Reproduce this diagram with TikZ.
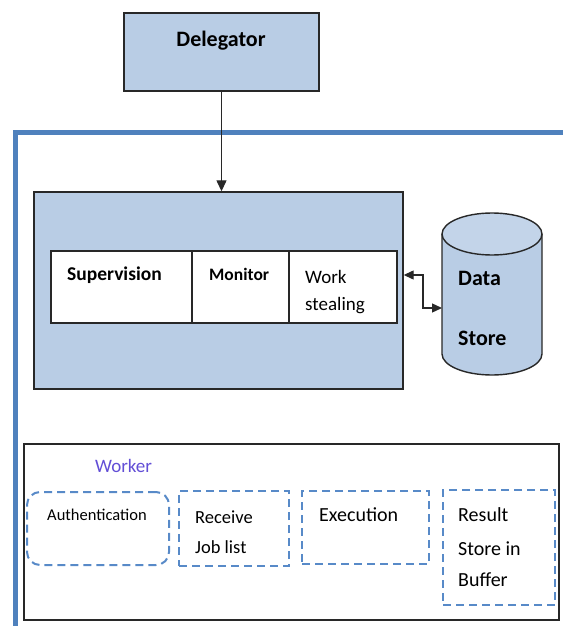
\documentclass[tikz,border=0pt]{standalone}
\usepackage{fontspec}
\setmainfont{Carlito}
\usetikzlibrary{arrows.meta}

\definecolor{boxfill}{RGB}{185,205,229}
\definecolor{framblue}{RGB}{79,129,189}
\definecolor{dashblue}{RGB}{88,138,200}
\definecolor{edge}{RGB}{40,40,40}
\definecolor{workerviolet}{RGB}{98,78,214}

\tikzset{
  bluebox/.style={draw=edge, line width=1.4pt, fill=boxfill, inner sep=0pt},
  cellbox/.style={draw=edge, line width=1.4pt, fill=white, inner sep=0pt},
  plainbox/.style={draw=edge, line width=1.4pt, inner sep=0pt},
  dashbox/.style={draw=dashblue, line width=2pt, dash pattern=on 8pt off 5pt, inner sep=0pt},
  txt/.style={anchor=west, inner sep=0pt, text=black},
  fs/.style={font=\fontsize{#1}{#1}\selectfont},
  tip/.style={-{Triangle[length=11pt,width=10pt]}, line width=1.3pt, draw=edge},
  dtip/.style={{Triangle[length=10pt,width=9pt]}-{Triangle[length=10pt,width=9pt]}, line width=1.3pt, draw=edge}
}

\begin{document}
\begin{tikzpicture}[x=1pt, y=-1pt]
\useasboundingbox (0,0) rectangle (563,626);

% outer frame (top and left sides only)
\draw[framblue, line width=5pt, line join=miter] (15,626) -- (15,132) -- (563,132);

% delegator
\node[bluebox, minimum width=195pt, minimum height=78pt] (dele) at (221.5,52) {};
\node[inner sep=0pt, font=\bfseries\fontsize{22}{22}\selectfont] (deletxt) at (221,41) {Delegator};

% supervisor block
\node[bluebox, minimum width=369pt, minimum height=197pt] (main) at (218.5,290.5) {};
\node[cellbox, minimum width=141pt, minimum height=72pt] (cell1) at (121.5,287) {};
\node[cellbox, minimum width=97pt, minimum height=72pt] (cell2) at (240.5,287) {};
\node[cellbox, minimum width=108pt, minimum height=72pt] (cell3) at (343,287) {};
\node[txt, font=\bfseries\fontsize{19.5}{19.5}\selectfont] (sup) at (67,275) {Supervision};
\node[txt, font=\bfseries\fontsize{17.5}{17.5}\selectfont] (mon) at (209,274) {Monitor};
\node[txt, fs=19] (work) at (305,277) {Work};
\node[txt, fs=19] (steal) at (305,306) {stealing};

% data store cylinder
\filldraw[fill=boxfill, draw=edge, line width=1.4pt]
  (442,234) -- (442,354) arc[start angle=180, end angle=360, x radius=50pt, y radius=21pt] -- (542,234);
\filldraw[fill=boxfill!85!white, draw=edge, line width=1.4pt]
  (492,234) ellipse[x radius=50pt, y radius=21pt];
\coordinate (store) at (442,308);
\node[txt, font=\bfseries\fontsize{22}{22}\selectfont] (data) at (458,278) {Data};
\node[txt, font=\bfseries\fontsize{22}{22}\selectfont] (storetxt) at (458,338) {Store};

% connectors
\draw[tip] (dele.south) -- (dele.south |- main.north);
\draw[dtip] (main.east |- 0,275) -| (423,308) -- (store);

% worker block
\node[plainbox, minimum width=535pt, minimum height=176pt] (worker) at (291.5,532) {};
\node[txt, fs=19, text=workerviolet] (workertxt) at (95,466) {Worker};

\node[dashbox, rounded corners=13pt, minimum width=142pt, minimum height=73pt] (auth) at (98,528.5) {};
\node[dashbox, minimum width=110pt, minimum height=75pt] (recv) at (234,528.5) {};
\node[dashbox, minimum width=127pt, minimum height=73pt] (exec) at (365.5,527.5) {};
\node[dashbox, minimum width=112pt, minimum height=115pt] (res) at (499,547.5) {};

\node[txt, fs=16.5] (authtxt) at (47,515) {Authentication};
\node[txt, fs=18.5] (recvtxt) at (195,517) {Receive};
\node[txt, fs=18.5] (jobtxt) at (195,547) {Job list};
\node[txt, fs=20] (exectxt) at (319,515) {Execution};
\node[txt, fs=20] (restxt) at (458,515) {Result};
\node[txt, fs=20] (storein) at (458,549) {Store in};
\node[txt, fs=20] (buftxt) at (458,580) {Buffer};
\end{tikzpicture}
\end{document}
